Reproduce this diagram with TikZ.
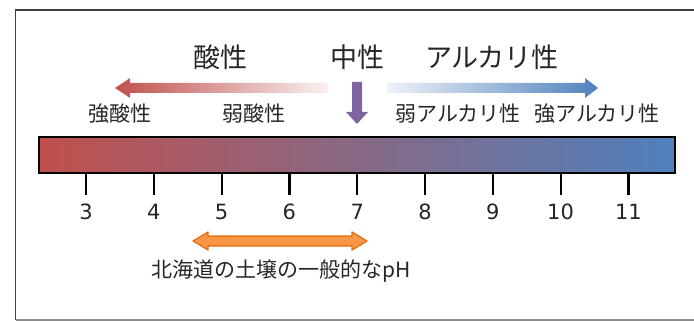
\documentclass[tikz,border=0pt]{standalone}
\usepackage{fontspec}
\setmainfont{Noto Sans CJK JP}
\newfontfamily\numfont{DejaVu Sans}
\definecolor{acid}{HTML}{C0504D}
\definecolor{alkali}{HTML}{4F81BD}
\definecolor{neutral}{HTML}{8064A2}
\definecolor{orfill}{HTML}{F79646}
\definecolor{ordraw}{HTML}{E46C0A}
\definecolor{txt}{HTML}{262626}
\tikzset{
  bigtxt/.style={text=txt, font=\fontsize{27}{27}\selectfont, inner sep=0pt},
  smalltxt/.style={text=txt, font=\fontsize{21}{21}\selectfont, inner sep=0pt},
  numtxt/.style={text=txt, font=\numfont\fontsize{21}{21}\selectfont, inner sep=0pt},
  tickline/.style={line width=2.2pt, black},
}
\begin{document}
\begin{tikzpicture}[x=1pt,y=-1pt]
\useasboundingbox (0,0) rectangle (694,321);
% frame
\draw[line width=1.6pt, black!75] (15.5,319.5) -- (15.5,10) -- (694,10);
\draw[line width=2pt, black!45] (15.5,319.5) -- (694,319.5);
% titles
\node[bigtxt] (acidT) at (220,57) {酸性};
\node[bigtxt] (neutT) at (357,57) {中性};
\node[bigtxt] (alkT) at (492,57) {アルカリ性};
% gradient arrows
\coordinate (redTip) at (115,88);
\coordinate (redTail) at (328,88);
\shade[left color=acid, right color=acid!8] (redTip) -- ++(15,-10) -- ++(0,5) -- (redTail |- 0,83) -- (redTail |- 0,93) -- (130,93) -- ++(0,5) -- cycle;
\coordinate (bluTail) at (387,88);
\coordinate (bluTip) at (598,88);
\shade[left color=alkali!10, right color=alkali] (bluTail |- 0,83) -- (585,83) -- (585,78) -- (bluTip) -- (585,98) -- (585,93) -- (bluTail |- 0,93) -- cycle;
% purple down arrow
\coordinate (pTop) at (357,82);
\coordinate (pTip) at (357,124);
\fill[neutral] (352,82) -- (362,82) -- (362,112) -- (368,112) -- (pTip) -- (346,112) -- (352,112) -- cycle;
% labels
\node[smalltxt] (strongA) at (120,114) {強酸性};
\node[smalltxt] (weakA) at (254,114) {弱酸性};
\node[smalltxt] (weakB) at (458,114) {弱アルカリ性};
\node[smalltxt] (strongB) at (597,114) {強アルカリ性};
% bar
\shade[left color=acid, right color=alkali] (39,137) rectangle (675,173);
\draw[line width=2.4pt, black] (39,137) rectangle (675,173);
% ticks
\foreach \v [count=\i from 0] in {3,...,11} {
  \pgfmathsetmacro{\xx}{86+67.8*\i}
  \draw[tickline] (\xx,173) -- (\xx,195);
  \node[numtxt] (n\v) at (\xx,212) {\v};
}
% orange double arrow
\filldraw[fill=orfill, draw=ordraw, line width=1.2pt, line join=round]
  (193,241) -- (208,232) -- (208,236) -- (352,236) -- (352,232) -- (367,241)
  -- (352,250) -- (352,246) -- (208,246) -- (208,250) -- cycle;
\node[smalltxt] (hokkaido) at (281,271) {北海道の土壌の一般的なpH};
\end{tikzpicture}
\end{document}
